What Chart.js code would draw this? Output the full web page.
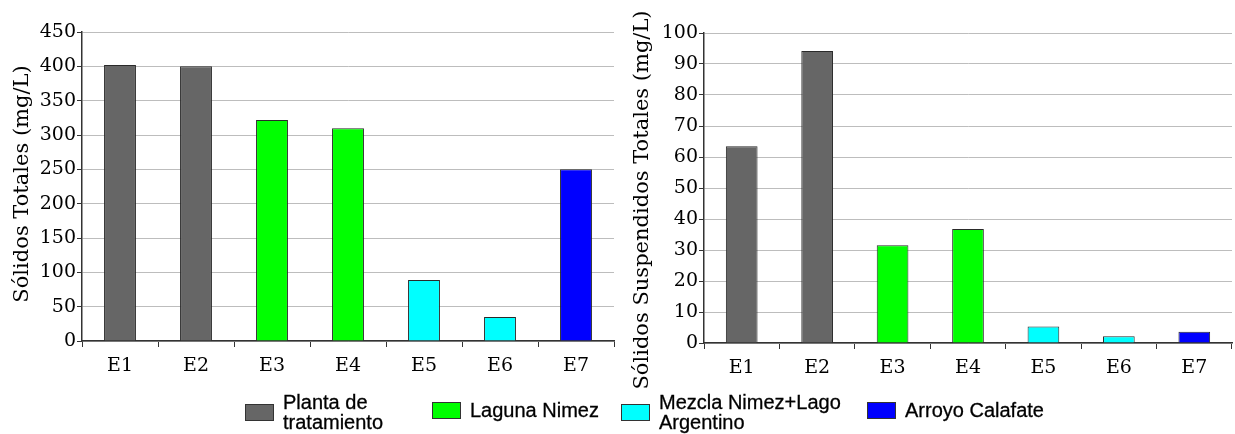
<!DOCTYPE html>
<html>
<head>
<meta charset="utf-8">
<script src="https://cdn.jsdelivr.net/npm/chart.js@4.4.1/dist/chart.umd.min.js"></script>
<style>
  body { margin: 0; background: #fff; width: 1235px; height: 434px; position: relative; overflow: hidden; }
  #left { position: absolute; left: 0; top: 0; }
  #right { position: absolute; left: 620px; top: 0; }
  .item { position: absolute; display: flex; align-items: center; font-family: "Liberation Sans", Arial, sans-serif; font-size: 20px; line-height: 20px; color: #000; -webkit-text-stroke: 0.3px #000; }
  .box { width: 27px; height: 15px; border: 1px solid #333; margin-right: 9px; flex: none; }
</style>
</head>
<body>
<canvas id="left" width="620" height="434"></canvas>
<canvas id="right" width="615" height="434"></canvas>
<div id="legend"></div>
<script>
// stations and which source each one belongs to
const stations = ['E1', 'E2', 'E3', 'E4', 'E5', 'E6', 'E7'];
const stationGroup = [0, 0, 1, 1, 2, 2, 3];

// sources (legend) and their colours
const groupNames = ['Planta de\ntratamiento', 'Laguna Nimez', 'Mezcla Nimez+Lago\nArgentino', 'Arroyo Calafate'];
const groupColors = ['#666666', '#00ff00', '#00ffff', '#0000ff'];

// values (mg/L)
const solidosTotales = [402, 400, 322, 310, 89, 35, 250];
const solidosSuspendidos = [63.5, 94.2, 31.5, 36.8, 5.3, 2.2, 3.6];

// axis ranges
const totalesMax = 450, totalesStep = 50;
const suspMax = 100, suspStep = 10;

const serif = 'DejaVu Serif';
const barColors = stationGroup.map(g => groupColors[g]);

// draws the rotated y axis title where the original has it
const axisTitle = {
    id: 'axisTitle',
    afterDraw(chart, args, opts) {
        const ctx = chart.ctx;
        ctx.save();
        ctx.translate(opts.x, opts.y);
        ctx.rotate(-Math.PI / 2);
        ctx.font = '21px "DejaVu Serif"';
        ctx.fillStyle = '#000';
        ctx.textAlign = 'center';
        ctx.textBaseline = 'middle';
        ctx.fillText(opts.text, 0, 0);
        ctx.restore();
    }
};

// makes one of the two bar charts
function makeChart(id, values, title, titleY, yMax, yStep, yWidth, xHeight, pad) {
    const ctx = document.getElementById(id);
    return new Chart(ctx, {
        type: 'bar',
        data: {
            labels: stations,
            datasets: [{
                data: values,
                backgroundColor: barColors,
                borderColor: '#2a2a2a',
                borderWidth: 1,
                barPercentage: 0.42,
                categoryPercentage: 1
            }]
        },
        plugins: [axisTitle],
        options: {
            responsive: false,
            animation: false,
            layout: { padding: pad },
            plugins: {
                legend: { display: false },
                tooltip: { enabled: false },
                axisTitle: { text: title, x: 23, y: titleY }
            },
            scales: {
                x: {
                    grid: {
                        drawOnChartArea: false,
                        tickLength: 6,
                        tickColor: '#333',
                        offset: true
                    },
                    border: { color: '#333', width: 1.5 },
                    ticks: {
                        color: '#000',
                        padding: 8,
                        font: { family: serif, size: 19 }
                    },
                    afterFit: s => { s.height = xHeight; }
                },
                y: {
                    min: 0,
                    max: yMax,
                    grid: {
                        color: '#bdbdbd',
                        tickLength: 5,
                        tickColor: '#333'
                    },
                    border: { color: '#333', width: 1.5 },
                    ticks: {
                        stepSize: yStep,
                        color: '#000',
                        padding: 1,
                        font: { family: serif, size: 19 }
                    },
                    afterFit: s => { s.width = yWidth; }
                }
            }
        }
    });
}

makeChart('left', solidosTotales, 'Sólidos Totales (mg/L)', 184, totalesMax, totalesStep, 82, 93,
    { top: 32, right: 6, left: 0, bottom: 0 });
makeChart('right', solidosSuspendidos, 'Sólidos Suspendidos Totales (mg/L)', 200, suspMax, suspStep, 84, 91,
    { top: 33, right: 3, left: 0, bottom: 0 });

// shared legend under both charts
const legendX = [245, 432, 621, 867];
const legend = document.getElementById('legend');
groupNames.forEach((name, i) => {
    const item = document.createElement('div');
    item.className = 'item';
    item.style.left = legendX[i] + 'px';
    item.style.top = name.includes('\n') ? '392px' : '400px';
    const box = document.createElement('div');
    box.className = 'box';
    box.style.background = groupColors[i];
    const text = document.createElement('div');
    text.innerHTML = name.split('\n').join('<br>');
    item.appendChild(box);
    item.appendChild(text);
    legend.appendChild(item);
});
</script>
</body>
</html>
